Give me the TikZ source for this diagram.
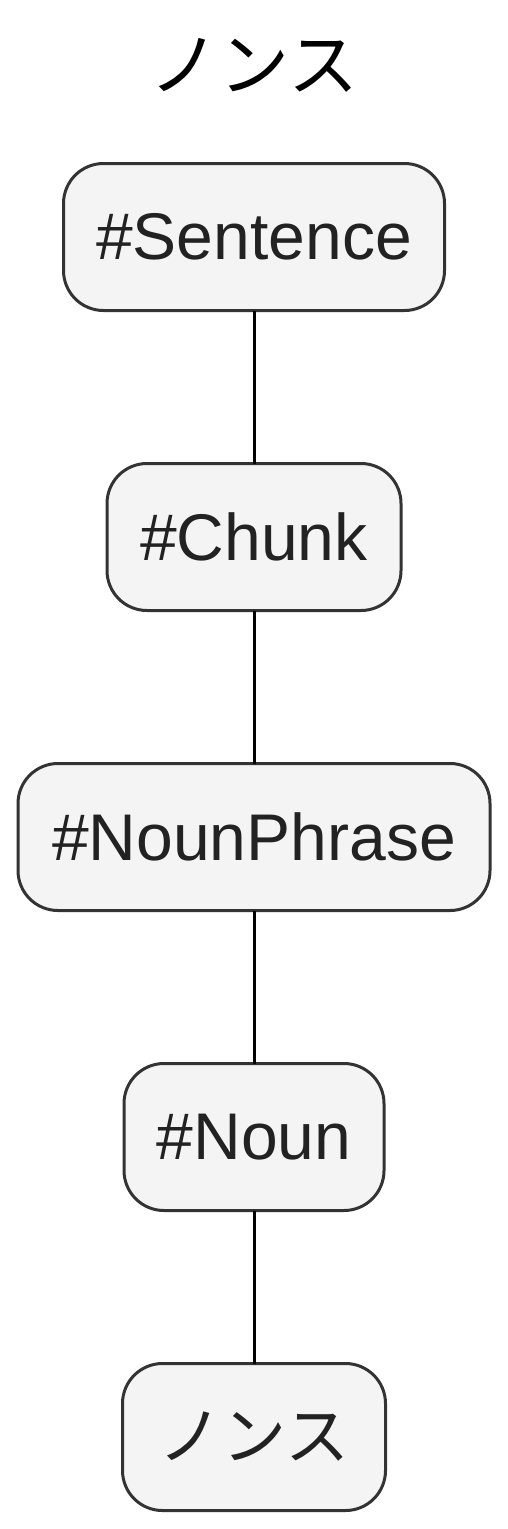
\documentclass[tikz,border=0pt]{standalone}
\usepackage{fontspec}
\setmainfont{Liberation Sans}
\newfontfamily\cjk{Noto Sans CJK JP}
\definecolor{boxfill}{HTML}{F4F4F4}
\definecolor{boxline}{HTML}{333333}
\definecolor{txt}{HTML}{222222}
\begin{document}
\begin{tikzpicture}[x=1pt,y=-1pt,
  box/.style={draw=boxline, fill=boxfill, line width=3pt, rounded corners=40pt,
    minimum height=147pt, inner sep=0pt, outer sep=0pt, text=txt,
    font=\fontsize{66}{70}\selectfont},
  link/.style={draw=black, line width=3pt}]
\useasboundingbox (0,0) rectangle (508,1529);
\node[font=\cjk\fontsize{70}{74}\selectfont, text=black] (title) at (254,65) {ノンス};
\node[box, minimum width=381pt] (s) at (254,237) {\#Sentence};
\node[box, minimum width=294pt] (c) at (254,537) {\#Chunk};
\node[box, minimum width=472pt] (np) at (254,837) {\#NounPhrase};
\node[box, minimum width=260pt] (n) at (254,1137) {\#Noun};
\node[box, minimum width=263pt, font=\cjk\fontsize{64}{68}\selectfont] (w) at (254,1437) {ノンス};
\draw[link] (s.south) -- (c.north);
\draw[link] (c.south) -- (np.north);
\draw[link] (np.south) -- (n.north);
\draw[link] (n.south) -- (w.north);
\end{tikzpicture}
\end{document}
